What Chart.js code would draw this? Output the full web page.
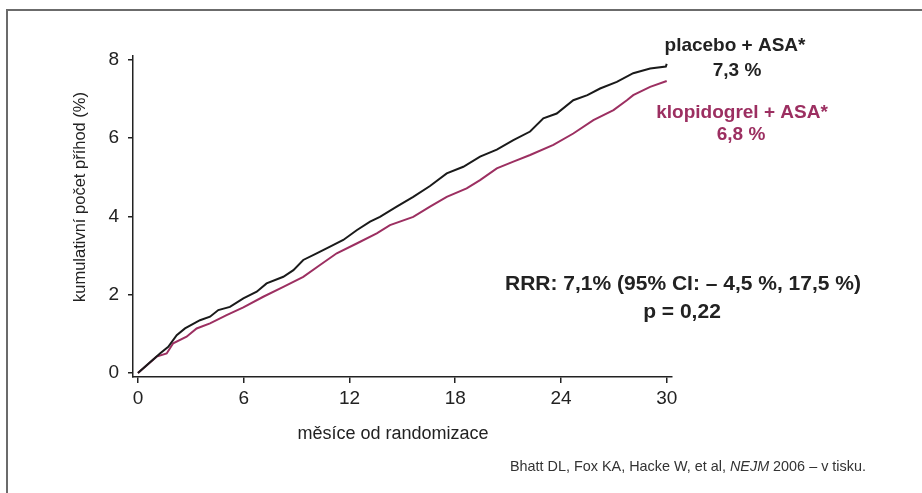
<!DOCTYPE html>
<html>
<head>
<meta charset="utf-8">
<script src="https://cdn.jsdelivr.net/npm/chart.js@4"></script>
<style>
    html, body { margin: 0; padding: 0; background: #fff; }
    canvas { display: block; }
</style>
</head>
<body>
<canvas id="kmChart" width="922" height="493"></canvas>
<script>
// Data (months, cumulative %)
const placeboMonths = [0, 1.25, 1.72, 2.2, 2.67, 3.52, 4.09, 4.56, 5.22, 5.98, 6.74, 7.3, 8.25, 8.82, 9.38, 10.14, 10.9, 11.65, 12.41, 13.17, 13.73, 14.68, 15.62, 16.57, 17.52, 18.46, 19.41, 20.36, 21.3, 22.25, 23.0, 23.76, 24.7, 25.5, 26.22, 27.17, 28.1, 29.06, 29.95, 30];
const placeboPct = [0, 0.5, 0.67, 0.97, 1.14, 1.35, 1.44, 1.61, 1.69, 1.91, 2.08, 2.29, 2.46, 2.63, 2.89, 3.06, 3.23, 3.4, 3.65, 3.87, 3.99, 4.25, 4.5, 4.78, 5.1, 5.27, 5.53, 5.71, 5.95, 6.17, 6.51, 6.63, 6.97, 7.1, 7.27, 7.44, 7.66, 7.78, 7.83, 7.9];

const clopidogrelMonths = [0, 1.06, 1.63, 2.0, 2.76, 3.33, 4.09, 5.03, 5.98, 7.11, 8.25, 9.38, 10.33, 11.28, 12.41, 13.55, 14.3, 15.62, 16.57, 17.52, 18.65, 19.41, 20.36, 21.3, 22.25, 23.57, 24.7, 25.84, 26.98, 27.74, 28.1, 29.06, 30];
const clopidogrelPct = [0, 0.42, 0.5, 0.76, 0.93, 1.14, 1.27, 1.48, 1.68, 1.95, 2.2, 2.46, 2.76, 3.06, 3.31, 3.57, 3.78, 3.99, 4.25, 4.5, 4.72, 4.93, 5.23, 5.4, 5.57, 5.83, 6.12, 6.46, 6.72, 6.97, 7.1, 7.31, 7.46];

const xTicks = [0, 6, 12, 18, 24, 30];
const yTicks = [0, 2, 4, 6, 8];

const textDark = '#222222';
const purple = '#9c2f61';
const fontName = '"Liberation Sans", Arial, sans-serif';

// Texty v grafu
const notesPlugin = {
    id: 'notes',
    beforeDraw(chart) {
        const ctx = chart.ctx;
        ctx.save();
        ctx.fillStyle = '#ffffff';
        ctx.fillRect(0, 0, chart.width, chart.height);
        // ramecek
        ctx.strokeStyle = '#6b6b6b';
        ctx.lineWidth = 2;
        ctx.beginPath();
        ctx.moveTo(chart.width, 10);
        ctx.lineTo(7, 10);
        ctx.lineTo(7, chart.height);
        ctx.stroke();
        ctx.restore();
    },
    afterDraw(chart) {
        const ctx = chart.ctx;
        ctx.save();
        ctx.textAlign = 'center';
        ctx.textBaseline = 'middle';

        // osy
        ctx.fillStyle = textDark;
        ctx.font = '18px ' + fontName;
        ctx.fillText('měsíce od randomizace', 393, 434);

        ctx.save();
        ctx.translate(80, 197);
        ctx.rotate(-Math.PI / 2);
        ctx.font = '16.5px ' + fontName;
        ctx.fillText('kumulativní počet příhod (%)', 0, 0);
        ctx.restore();

        // popisky krivek
        ctx.font = 'bold 19px ' + fontName;
        ctx.fillStyle = textDark;
        ctx.fillText('placebo + ASA*', 735, 46);
        ctx.fillText('7,3 %', 737, 71);
        ctx.fillStyle = purple;
        ctx.fillText('klopidogrel + ASA*', 742, 113);
        ctx.fillText('6,8 %', 741, 135);

        // RRR
        ctx.fillStyle = textDark;
        ctx.font = 'bold 21px ' + fontName;
        ctx.fillText('RRR: 7,1% (95% CI: – 4,5 %, 17,5 %)', 683, 284);
        ctx.fillText('p = 0,22', 682, 312);

        // citace
        ctx.fillStyle = '#333333';
        ctx.textAlign = 'left';
        let x = 510;
        const parts = [
            ['Bhatt DL, Fox KA, Hacke W, et al, ', ''],
            ['NEJM', 'italic '],
            [' 2006 – v tisku.', '']
        ];
        parts.forEach(p => {
            ctx.font = p[1] + '14.4px ' + fontName;
            ctx.fillText(p[0], x, 467);
            x += ctx.measureText(p[0]).width;
        });
        ctx.restore();
    }
};

const ctx = document.getElementById('kmChart').getContext('2d');
const kmChart = new Chart(ctx, {
    type: 'line',
    data: {
        datasets: [
            {
                label: 'placebo + ASA*',
                data: placeboMonths.map((m, i) => ({ x: m, y: placeboPct[i] })),
                borderColor: '#1a1a1a',
                borderWidth: 2,
                pointRadius: 0,
                tension: 0,
                fill: false
            },
            {
                label: 'klopidogrel + ASA*',
                data: clopidogrelMonths.map((m, i) => ({ x: m, y: clopidogrelPct[i] })),
                borderColor: purple,
                borderWidth: 2,
                pointRadius: 0,
                tension: 0,
                fill: false
            }
        ]
    },
    options: {
        responsive: false,
        animation: false,
        devicePixelRatio: 1,
        layout: {
            padding: { left: 0, top: 56, right: 250, bottom: 0 }
        },
        scales: {
            x: {
                type: 'linear',
                min: -0.28,
                max: 30.3,
                afterBuildTicks: (scale) => { scale.ticks = xTicks.map(v => ({ value: v })); },
                afterFit: (scale) => { scale.height = 116; },
                border: { display: true, color: '#222', width: 1.5 },
                grid: { drawOnChartArea: false, drawTicks: true, tickLength: 6, color: '#222', lineWidth: 1.5 },
                ticks: {
                    color: textDark,
                    padding: 4,
                    maxRotation: 0,
                    font: { family: fontName, size: 19 }
                }
            },
            y: {
                type: 'linear',
                min: -0.1,
                max: 8.1,
                afterBuildTicks: (scale) => { scale.ticks = yTicks.map(v => ({ value: v })); },
                afterFit: (scale) => { scale.width = 133; },
                border: { display: true, color: '#222', width: 1.5 },
                grid: { drawOnChartArea: false, drawTicks: true, tickLength: 5, color: '#222', lineWidth: 1.5 },
                ticks: {
                    color: textDark,
                    padding: 9,
                    font: { family: fontName, size: 19 }
                }
            }
        },
        plugins: {
            legend: { display: false },
            tooltip: { enabled: false }
        }
    },
    plugins: [notesPlugin]
});
</script>
</body>
</html>
